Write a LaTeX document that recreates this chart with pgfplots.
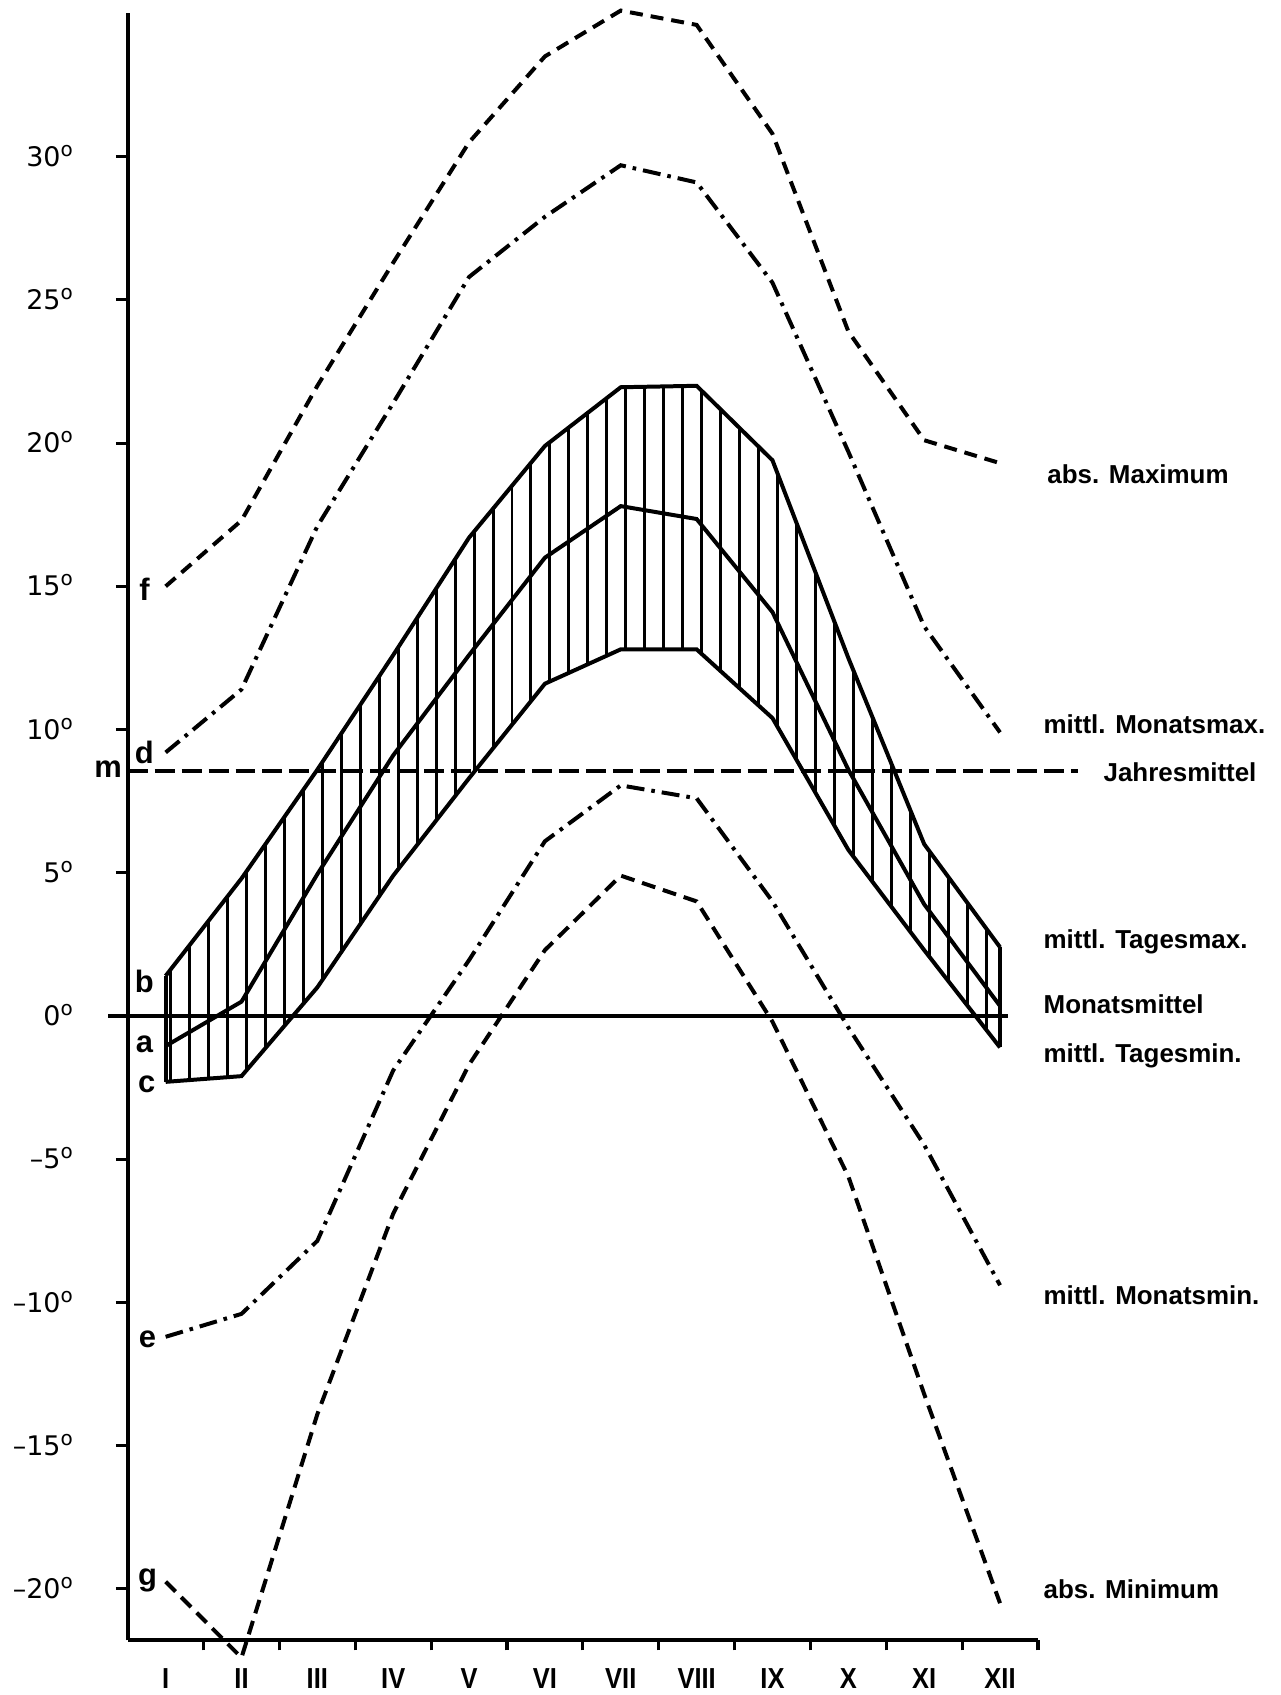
\documentclass[border=0pt]{standalone}
\usepackage{fontspec}
\setmainfont{Liberation Sans}
\newfontfamily\dejavu{DejaVu Sans}
\usepackage{graphicx}
\usepackage{pgfplots}
\pgfplotsset{compat=1.18}
\usepackage{pgfplotstable}
\usepgfplotslibrary{fillbetween}
\usetikzlibrary{patterns.meta}

% degree sign as raised small o
\newcommand{\dg}{\smash{\raisebox{5pt}{\fontsize{10}{10}\selectfont o}}}
\newcommand{\mon}[1]{\scalebox{0.88}[1]{#1}}

% monthly values (deg C)
\pgfplotstableread{
m  absmax monmax tmax  mean  tmin  monmin absmin
1  15.0   9.2    1.4   -1.05 -2.3  -11.2  -19.75
2  17.3   11.4   4.8   0.5   -2.1  -10.4  -22.4
3  22.0   17.1   8.6   4.95  1.0   -7.85  -13.9
4  26.3   21.4   12.6  9.1   4.9   -1.9   -6.9
5  30.5   25.8   16.7  12.6  8.3   1.95   -1.7
6  33.5   27.9   19.9  16.0  11.6  6.1    2.3
7  35.1   29.7   21.95 17.8  12.8  8.05   4.9
8  34.6   29.1   22.0  17.35 12.8  7.6    4.0
9  30.8   25.6   19.4  14.1  10.4  4.0    -0.2
10 23.9   19.7   12.5  8.6   5.8   -0.4   -5.6
11 20.1   13.6   6.0   3.9   2.3   -4.5   -13.2
12 19.3   9.9    2.4   0.35  -1.1  -9.4   -20.5
}\klima

\begin{document}
\begin{tikzpicture}
\begin{axis}[
    x=38pt, y=14.35pt,
    xmin=0.5, xmax=12.5, ymin=-21.8, ymax=35,
    axis lines=left,
    axis line style={-, line width=2pt},
    clip=false,
    tick align=outside,
    tick style={black, line width=1.6pt},
    major tick length=6pt,
    minor tick length=5pt,
    xtick={1,...,12},
    xticklabels={\mon{I},\mon{II},\mon{III},\mon{IV},\mon{V},\mon{VI},\mon{VII},\mon{VIII},\mon{IX},\mon{X},\mon{XI},\mon{XII}},
    major x tick style={draw=none},
    minor xtick={1.5,2.5,...,12.5},
    xticklabel style={font=\bfseries\fontsize{14.5}{14.5}\selectfont, yshift=-4.5pt},
    ytick={-20,-15,...,30},
    yticklabels={\textendash20\dg,\textendash15\dg,\textendash10\dg,\textendash5\dg,0\dg,5\dg,10\dg,15\dg,20\dg,25\dg,30\dg},
    yticklabel style={font=\dejavu\fontsize{13.5}{13.5}\selectfont, xshift=-18pt},
]

% frame of the page
\path (axis cs:-1.184,-23.59) rectangle (axis cs:15.70,35.47);

% hatched band between mittl. Tagesmax and mittl. Tagesmin
\addplot[name path=top, line width=2pt] table[x=m, y=tmax] {\klima};
\addplot[name path=bot, line width=2pt] table[x=m, y=tmin] {\klima};
\addplot[pattern={Lines[angle=90, distance=9.5pt, line width=1.5pt]}, pattern color=black, draw=none]
    fill between[of=top and bot];
\addplot[line width=2pt] coordinates {(1,-2.3) (1,1.4)};
\addplot[line width=2pt] coordinates {(12,-1.1) (12,2.4)};
\addplot[line width=2pt] table[x=m, y=mean] {\klima};

% zero line and Jahresmittel
\addplot[line width=1.8pt] coordinates {(0.24,0) (12.1,0)};
\addplot[line width=2pt, dash pattern=on 10pt off 3.5pt] coordinates {(0.5,8.55) (13.03,8.55)};

% extremes
\addplot[line width=2pt, dash pattern=on 6.5pt off 4pt] table[x=m, y=absmax] {\klima};
\addplot[line width=2pt, dash pattern=on 9pt off 3.5pt on 1.8pt off 3.5pt] table[x=m, y=monmax] {\klima};
\addplot[line width=2pt, dash pattern=on 9pt off 3.5pt on 1.8pt off 3.5pt] table[x=m, y=monmin] {\klima};
\addplot[line width=2pt, dash pattern=on 7pt off 4pt] table[x=m, y=absmin] {\klima};

% letters
\begin{scope}[every node/.style={font=\bfseries\fontsize{15.5}{15.5}\selectfont}]
\node at (axis cs:0.72,14.9) {f};
\node at (axis cs:0.72,9.2) {d};
\node at (axis cs:0.24,8.6) {m};
\node at (axis cs:0.72,1.2) {b};
\node at (axis cs:0.72,-1.0) {a};
\node at (axis cs:0.75,-2.4) {c};
\node at (axis cs:0.76,-11.3) {e};
\node at (axis cs:0.76,-19.7) {g};
\end{scope}

% labels on the right
\begin{scope}[every node/.style={font=\bfseries\fontsize{13}{13}\selectfont, anchor=west, inner sep=0pt}]
\node at (axis cs:12.62,18.9) {abs. Maximum};
\node at (axis cs:12.57,10.2) {mittl. Monatsmax.};
\node at (axis cs:13.36,8.5) {Jahresmittel};
\node at (axis cs:12.57,2.6) {mittl. Tagesmax.};
\node at (axis cs:12.57,0.4) {Monatsmittel};
\node at (axis cs:12.57,-1.4) {mittl. Tagesmin.};
\node at (axis cs:12.57,-9.75) {mittl. Monatsmin.};
\node at (axis cs:12.57,-20.0) {abs. Minimum};
\end{scope}
\end{axis}
\end{tikzpicture}
\end{document}
